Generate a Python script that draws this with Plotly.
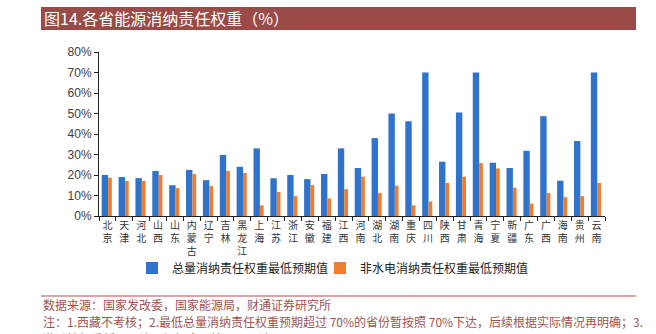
import plotly.graph_objects as go

provinces = ["北京", "天津", "河北", "山西", "山东", "内蒙古", "辽宁", "吉林", "黑龙江", "上海",
             "江苏", "浙江", "安徽", "福建", "江西", "河南", "湖北", "湖南", "重庆", "四川",
             "陕西", "甘肃", "青海", "宁夏", "新疆", "广东", "广西", "海南", "贵州", "云南"]
total_weight = [20.0, 19.0, 18.5, 22.0, 15.0, 22.5, 17.5, 29.8, 24.0, 33.0,
                18.4, 20.0, 18.0, 20.5, 33.0, 23.4, 38.0, 50.0, 46.2, 70.0,
                26.5, 50.5, 70.0, 26.0, 23.4, 31.8, 48.7, 17.2, 36.6, 70.0]
non_hydro_weight = [18.7, 17.1, 17.1, 20.0, 13.6, 20.5, 14.6, 22.0, 21.0, 5.2,
                    11.7, 9.7, 15.1, 8.6, 13.1, 19.2, 11.2, 14.8, 5.2, 7.1,
                    16.1, 19.2, 25.8, 23.2, 13.8, 6.1, 11.2, 9.2, 9.7, 16.1]
y_ticks = [0, 10, 20, 30, 40, 50, 60, 70, 80]
series_names = ["总量消纳责任权重最低预期值", "非水电消纳责任权重最低预期值"]
title_text = "图14.各省能源消纳责任权重（%）"
notes = ["数据来源：国家发改委，国家能源局，财通证券研究所",
         "注：1.西藏不考核；2.最低总量消纳责任权重预期超过 70%的省份暂按照 70%下达，后续根据实际情况再明确；3.",
         "激励性权重暂不下达，根据实际情况再下达"]

W, H = 656, 334
L, R, T, B = 99, 51, 52, 118
PW, PH = W - L - R, H - T - B


def px_x(p):
    return (p - L) / PW


def px_y(p):
    return (H - B - p) / PH


tick_text = ["<br>".join(list(p)) for p in provinces]

fig = go.Figure()
fig.add_trace(go.Bar(x=provinces, y=total_weight, name=series_names[0],
                     marker=dict(color="#3073CA", line=dict(width=0)),
                     width=0.38, offset=-0.34, legend="legend"))
fig.add_trace(go.Bar(x=provinces, y=non_hydro_weight, name=series_names[1],
                     marker=dict(color="#ED7D31", line=dict(width=0)),
                     width=0.22, offset=0.04, legend="legend2"))

legend_common = dict(orientation="h", yanchor="middle", y=px_y(268), xanchor="left",
                     font=dict(size=12, color="#222222", family="Noto Sans CJK SC"),
                     itemwidth=30, bgcolor="rgba(0,0,0,0)")

fig.update_layout(
    width=W, height=H,
    margin=dict(l=L, r=R, t=T, b=B),
    paper_bgcolor="white", plot_bgcolor="white",
    barmode="overlay",
    font=dict(family="Noto Sans CJK SC, Arial", size=12, color="#333333"),
    showlegend=True,
    legend=dict(x=px_x(132), **legend_common),
    legend2=dict(x=px_x(320), **legend_common),
    xaxis=dict(type="category", tickmode="array", tickvals=provinces, ticktext=tick_text,
               tickson="boundaries", ticks="outside", ticklen=4, tickcolor="#222222",
               showline=True, linecolor="#222222", linewidth=1, showgrid=False,
               tickangle=0, tickfont=dict(size=10, color="#333333", family="Noto Sans CJK SC"),
               range=[-0.5, len(provinces) - 0.5]),
    yaxis=dict(range=[0, 80], tickmode="array", tickvals=y_ticks,
               ticktext=[f"{v}%" for v in y_ticks],
               ticks="outside", ticklen=4, tickcolor="#222222",
               showline=True, linecolor="#222222", linewidth=1, showgrid=False, zeroline=False,
               tickfont=dict(size=12, color="#404040", family="Liberation Sans, Arial")),
)

# title banner
fig.add_shape(type="rect", xref="paper", yref="paper",
              x0=px_x(41), x1=px_x(636), y0=px_y(30), y1=px_y(7),
              fillcolor="#9B4B47", line=dict(width=0), layer="below")
fig.add_annotation(text=title_text, xref="paper", yref="paper",
                   x=px_x(42), y=px_y(18.5), xanchor="left", yanchor="middle",
                   showarrow=False, font=dict(size=16, color="white",
                                              family="Noto Sans CJK SC"))
# separator line
fig.add_shape(type="line", xref="paper", yref="paper",
              x0=px_x(41), x1=px_x(636), y0=px_y(296), y1=px_y(296),
              line=dict(color="#D6A8A5", width=2))
for txt, yc in zip(notes, [304, 321, 338]):
    fig.add_annotation(text=txt, xref="paper", yref="paper",
                       x=px_x(41), y=px_y(yc), xanchor="left", yanchor="middle",
                       showarrow=False, font=dict(size=12, color="#A4524E",
                                                  family="Noto Sans CJK SC"))

fig.write_html("out.html")
